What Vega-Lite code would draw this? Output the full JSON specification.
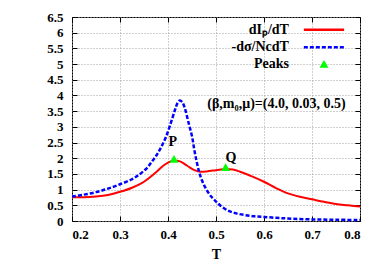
{
  "$schema": "https://vega.github.io/schema/vega-lite/v6.json",
  "width": 288,
  "height": 204,
  "autosize": "none",
  "padding": {"left": 72, "top": 17, "right": 22, "bottom": 46},
  "config": {
    "view": {"stroke": "black", "strokeWidth": 1},
    "font": "Liberation Serif",
    "axis": {
      "domain": false,
      "tickColor": "black",
      "tickSize": -5,
      "labelFont": "Liberation Serif",
      "labelFontWeight": "bold",
      "labelFontSize": 13,
      "labelColor": "black",
      "titleFont": "Liberation Serif",
      "titleFontWeight": "bold",
      "titleFontSize": 14,
      "titleColor": "black",
      "gridColor": "#a0a0a0",
      "gridDash": [1, 2],
      "gridWidth": 1,
      "gridOpacity": 1
    }
  },
  "datasets": {
    "curves": [
      {"T": 0.2, "v": 0.76, "series": "dI"},
      {"T": 0.225, "v": 0.76, "series": "dI"},
      {"T": 0.25, "v": 0.78, "series": "dI"},
      {"T": 0.275, "v": 0.83, "series": "dI"},
      {"T": 0.3, "v": 0.93, "series": "dI"},
      {"T": 0.325, "v": 1.06, "series": "dI"},
      {"T": 0.35, "v": 1.25, "series": "dI"},
      {"T": 0.375, "v": 1.55, "series": "dI"},
      {"T": 0.39, "v": 1.76, "series": "dI"},
      {"T": 0.4, "v": 1.86, "series": "dI"},
      {"T": 0.4125, "v": 1.93, "series": "dI"},
      {"T": 0.425, "v": 1.9, "series": "dI"},
      {"T": 0.44, "v": 1.76, "series": "dI"},
      {"T": 0.455, "v": 1.62, "series": "dI"},
      {"T": 0.467, "v": 1.57, "series": "dI"},
      {"T": 0.48, "v": 1.58, "series": "dI"},
      {"T": 0.5, "v": 1.62, "series": "dI"},
      {"T": 0.52, "v": 1.66, "series": "dI"},
      {"T": 0.535, "v": 1.64, "series": "dI"},
      {"T": 0.55, "v": 1.57, "series": "dI"},
      {"T": 0.575, "v": 1.42, "series": "dI"},
      {"T": 0.6, "v": 1.25, "series": "dI"},
      {"T": 0.625, "v": 1.05, "series": "dI"},
      {"T": 0.65, "v": 0.88, "series": "dI"},
      {"T": 0.675, "v": 0.77, "series": "dI"},
      {"T": 0.7, "v": 0.69, "series": "dI"},
      {"T": 0.725, "v": 0.61, "series": "dI"},
      {"T": 0.75, "v": 0.54, "series": "dI"},
      {"T": 0.775, "v": 0.5, "series": "dI"},
      {"T": 0.8, "v": 0.46, "series": "dI"},
      {"T": 0.2, "v": 0.78, "series": "ds"},
      {"T": 0.225, "v": 0.84, "series": "ds"},
      {"T": 0.25, "v": 0.92, "series": "ds"},
      {"T": 0.275, "v": 1.03, "series": "ds"},
      {"T": 0.3, "v": 1.17, "series": "ds"},
      {"T": 0.325, "v": 1.33, "series": "ds"},
      {"T": 0.34, "v": 1.48, "series": "ds"},
      {"T": 0.355, "v": 1.67, "series": "ds"},
      {"T": 0.365, "v": 1.86, "series": "ds"},
      {"T": 0.375, "v": 2.07, "series": "ds"},
      {"T": 0.385, "v": 2.33, "series": "ds"},
      {"T": 0.395, "v": 2.65, "series": "ds"},
      {"T": 0.405, "v": 3.08, "series": "ds"},
      {"T": 0.415, "v": 3.56, "series": "ds"},
      {"T": 0.42, "v": 3.76, "series": "ds"},
      {"T": 0.425, "v": 3.84, "series": "ds"},
      {"T": 0.43, "v": 3.78, "series": "ds"},
      {"T": 0.435, "v": 3.6, "series": "ds"},
      {"T": 0.4425, "v": 3.15, "series": "ds"},
      {"T": 0.45, "v": 2.7, "series": "ds"},
      {"T": 0.455, "v": 2.25, "series": "ds"},
      {"T": 0.46, "v": 1.87, "series": "ds"},
      {"T": 0.465, "v": 1.56, "series": "ds"},
      {"T": 0.47, "v": 1.32, "series": "ds"},
      {"T": 0.48, "v": 1.0, "series": "ds"},
      {"T": 0.49, "v": 0.78, "series": "ds"},
      {"T": 0.5, "v": 0.62, "series": "ds"},
      {"T": 0.51, "v": 0.48, "series": "ds"},
      {"T": 0.525, "v": 0.33, "series": "ds"},
      {"T": 0.54, "v": 0.25, "series": "ds"},
      {"T": 0.56, "v": 0.19, "series": "ds"},
      {"T": 0.58, "v": 0.15, "series": "ds"},
      {"T": 0.6, "v": 0.13, "series": "ds"},
      {"T": 0.625, "v": 0.1, "series": "ds"},
      {"T": 0.65, "v": 0.08, "series": "ds"},
      {"T": 0.7, "v": 0.05, "series": "ds"},
      {"T": 0.75, "v": 0.04, "series": "ds"},
      {"T": 0.8, "v": 0.03, "series": "ds"}
    ],
    "peaks": [
      {"T": 0.4125, "v": 1.98},
      {"T": 0.52, "v": 1.72},
      {"T": 0.725, "v": 5.01}
    ],
    "labels": [
      {"T": 0.41, "v": 2.53, "text": "P", "al": "center"},
      {"T": 0.531, "v": 2.0, "text": "Q", "al": "center"},
      {"T": 0.652, "v": 6.09, "text": "dIₚ/dT", "al": "right"},
      {"T": 0.652, "v": 5.54, "text": "-dσ/NcdT", "al": "right"},
      {"T": 0.652, "v": 5.01, "text": "Peaks", "al": "right"},
      {"T": 0.626, "v": 3.73, "text": "(β,m₀,μ)=(4.0, 0.03, 0.5)", "al": "center"}
    ],
    "samples": [
      {"T": 0.683, "T2": 0.767, "v": 6.09, "series": "dI"},
      {"T": 0.683, "T2": 0.767, "v": 5.54, "series": "ds"}
    ]
  },
  "resolve": {"axis": {"x": "independent", "y": "independent"}},
  "layer": [
    {
      "data": {"name": "curves"},
      "transform": [{"filter": "datum.series == 'dI'"}],
      "mark": {"type": "line", "color": "#ff0000", "strokeWidth": 2, "interpolate": "monotone"},
      "encoding": {
        "x": {"field": "T", "type": "quantitative", "scale": {"domain": [0.2, 0.8], "nice": false, "zero": false},
          "axis": {"orient": "bottom", "values": [0.2, 0.3, 0.4, 0.5, 0.6, 0.7, 0.8], "title": "T", "grid": true, "labelPadding": 12, "titlePadding": 6, "format": ".1f"}},
        "y": {"field": "v", "type": "quantitative", "scale": {"domain": [0, 6.5], "nice": false},
          "axis": {"orient": "left", "values": [0, 0.5, 1, 1.5, 2, 2.5, 3, 3.5, 4, 4.5, 5, 5.5, 6, 6.5], "title": null, "grid": true, "labelPadding": 14, "format": "~g"}}
      }
    },
    {
      "data": {"name": "curves"},
      "transform": [{"filter": "datum.series == 'ds'"}],
      "mark": {"type": "line", "color": "#0000ff", "strokeWidth": 2.5, "strokeDash": [4, 2], "interpolate": "catmull-rom"},
      "encoding": {
        "x": {"field": "T", "type": "quantitative", "axis": {"orient": "top", "values": [0.2, 0.3, 0.4, 0.5, 0.6, 0.7, 0.8], "labels": false, "title": null, "grid": false}},
        "y": {"field": "v", "type": "quantitative", "axis": {"orient": "right", "values": [0, 0.5, 1, 1.5, 2, 2.5, 3, 3.5, 4, 4.5, 5, 5.5, 6, 6.5], "labels": false, "title": null, "grid": false}}
      }
    },
    {
      "data": {"name": "samples"},
      "mark": {"type": "rule", "strokeWidth": 2.5},
      "encoding": {
        "x": {"field": "T", "type": "quantitative", "axis": null},
        "x2": {"field": "T2"},
        "y": {"field": "v", "type": "quantitative", "axis": null},
        "color": {"field": "series", "type": "nominal", "scale": {"domain": ["dI", "ds"], "range": ["#ff0000", "#0000ff"]}, "legend": null},
        "strokeDash": {"field": "series", "type": "nominal", "scale": {"domain": ["dI", "ds"], "range": [[1, 0], [4, 2]]}, "legend": null}
      }
    },
    {
      "data": {"name": "peaks"},
      "mark": {"type": "point", "shape": "triangle-up", "filled": true, "color": "#00ff00", "opacity": 1, "size": 80},
      "encoding": {
        "x": {"field": "T", "type": "quantitative", "axis": null},
        "y": {"field": "v", "type": "quantitative", "axis": null}
      }
    },
    {
      "data": {"name": "labels"},
      "transform": [{"filter": "datum.al == 'right'"}],
      "mark": {"type": "text", "font": "Liberation Serif", "fontWeight": "bold", "fontSize": 14, "baseline": "middle", "align": "right", "color": "black"},
      "encoding": {
        "x": {"field": "T", "type": "quantitative", "axis": null},
        "y": {"field": "v", "type": "quantitative", "axis": null},
        "text": {"field": "text"}
      }
    },
    {
      "data": {"name": "labels"},
      "transform": [{"filter": "datum.al == 'center'"}],
      "mark": {"type": "text", "font": "Liberation Serif", "fontWeight": "bold", "fontSize": 14, "baseline": "middle", "align": "center", "color": "black"},
      "encoding": {
        "x": {"field": "T", "type": "quantitative", "axis": null},
        "y": {"field": "v", "type": "quantitative", "axis": null},
        "text": {"field": "text"}
      }
    }
  ]
}
